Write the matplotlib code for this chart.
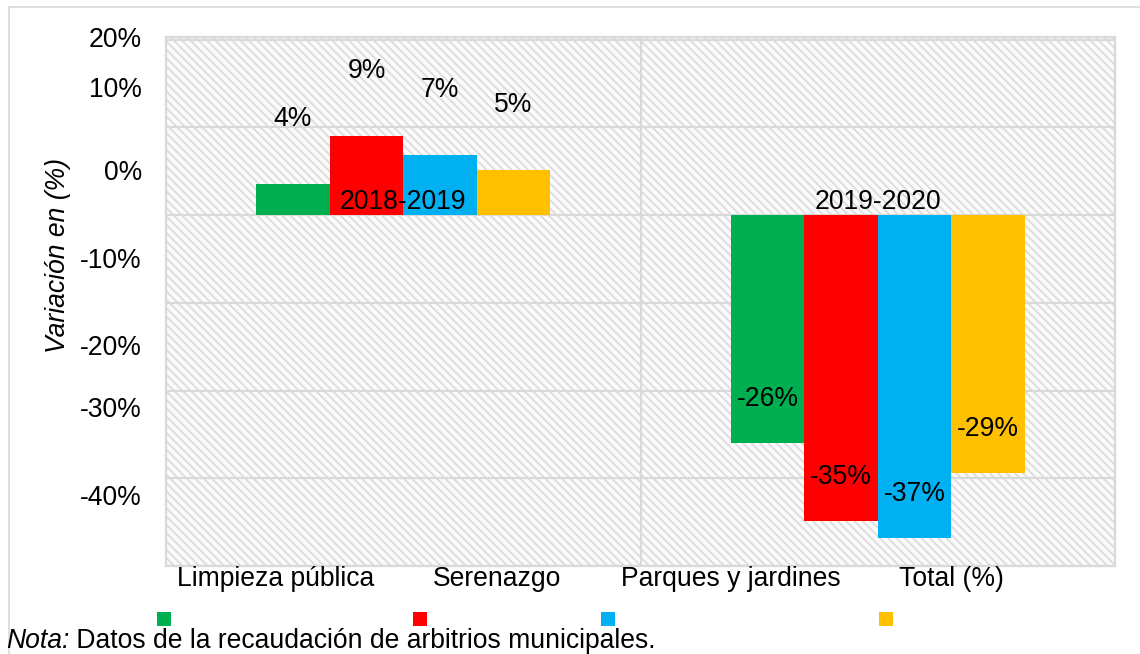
import matplotlib
matplotlib.use('Agg')
import matplotlib.pyplot as plt
from matplotlib.patches import Rectangle
from matplotlib.lines import Line2D
import numpy as np

# ---- data ----
periods = ['2018-2019', '2019-2020']
series = ['Limpieza pública', 'Serenazgo', 'Parques y jardines', 'Total (%)']
colors = ['#00B050', '#FF0000', '#00B0F0', '#FFC000']
limpieza = [3.6, -26.0]
serenazgo = [9.0, -34.9]
parques = [6.8, -36.8]
total = [5.1, -29.4]
values = [limpieza, serenazgo, parques, total]
ytick_pos = [20.3, 14.6, 5.1, -4.9, -14.8, -21.9, -31.9]
ytick_labels = ['20%', '10%', '0%', '-10%', '-20%', '-30%', '-40%']
ylabel = 'Variación en (%)'
note_lead = 'Nota:'
note_rest = ' Datos de la recaudación de arbitrios municipales.'

plt.rcParams['font.family'] = ['Liberation Sans', 'DejaVu Sans']
plt.rcParams['hatch.linewidth'] = 1.3
FS = 19.1
W, H = 1140, 654
grid_c = '#d9d9d9'

fig = plt.figure(figsize=(W / 100, H / 100), dpi=100)
ax = fig.add_axes([166 / W, 1 - 566 / H, (1115 - 166) / W, (566 - 37) / H])
ax.set_xlim(-0.5, 1.5)
ax.set_ylim(-40, 20)
ax.set_facecolor('white')
bg = Rectangle((0, 0), 1, 1, transform=ax.transAxes, facecolor='#fbfbfb',
               edgecolor='#dcdcdc', linewidth=0, hatch=chr(92) * 4, zorder=0)
ax.add_patch(bg)

# grid
ax.set_yticks(np.arange(-40, 21, 10), minor=True)
ax.set_xticks([0.5], minor=True)
ax.grid(True, which='minor', color=grid_c, lw=1.6, zorder=0.5)
ax.set_axisbelow(True)
ax.set_yticks(ytick_pos, ytick_labels)
ax.set_xticks([])
ax.tick_params(axis='both', which='both', length=0)
ax.tick_params(axis='y', which='major', pad=17.3, labelsize=FS, labelcolor='black')
for s in ax.spines.values():
    s.set_color(grid_c)
    s.set_linewidth(1.6)

# bars
w = 0.155
xc = np.arange(len(periods))
for i, (name, vals, c) in enumerate(zip(series, values, colors)):
    bars = ax.bar(xc + (i - 1.5) * w, vals, w, color=c, zorder=2)
    for b, v in zip(bars, vals):
        off = 58 if v > 0 else 37
        ax.annotate(f'{v:.0f}%', (b.get_x() + b.get_width() / 2, v),
                    xytext=(0, off), textcoords='offset pixels',
                    ha='center', va='baseline', fontsize=FS, zorder=5)

for i, p in enumerate(periods):
    ax.annotate(p, (xc[i], 0), xytext=(0, 6), textcoords='offset pixels',
                ha='center', va='baseline', fontsize=FS, zorder=6)

fig.text(58 / W, 1 - 255 / H, ylabel, rotation=90, style='italic',
         ha='center', va='center', fontsize=FS)

# outer frame
fig.add_artist(Line2D([9 / W, 1], [1 - 7 / H, 1 - 7 / H], transform=fig.transFigure,
                      color=grid_c, lw=1.2))
fig.add_artist(Line2D([9 / W, 9 / W], [0, 1 - 7 / H], transform=fig.transFigure,
                      color=grid_c, lw=1.2))

# legend (markers below, labels shifted up)
renderer = fig.canvas.get_renderer()
xpos = 157
for name, c in zip(series, colors):
    fig.patches.append(Rectangle((xpos / W, 1 - 626 / H), 14 / W, 14 / H,
                                 transform=fig.transFigure, facecolor=c,
                                 edgecolor='none'))
    t = fig.text((xpos + 20) / W, 1 - 586 / H, name, fontsize=FS, va='baseline')
    bb = t.get_window_extent(renderer)
    xpos = bb.x1 + 39

# note
t1 = fig.text(6 / W, 1 - 648 / H, note_lead, style='italic', fontsize=FS, va='baseline')
bb = t1.get_window_extent(renderer)
fig.text(bb.x1 / W, 1 - 648 / H, note_rest, fontsize=FS, va='baseline')

fig.savefig('out.png', dpi=100)
